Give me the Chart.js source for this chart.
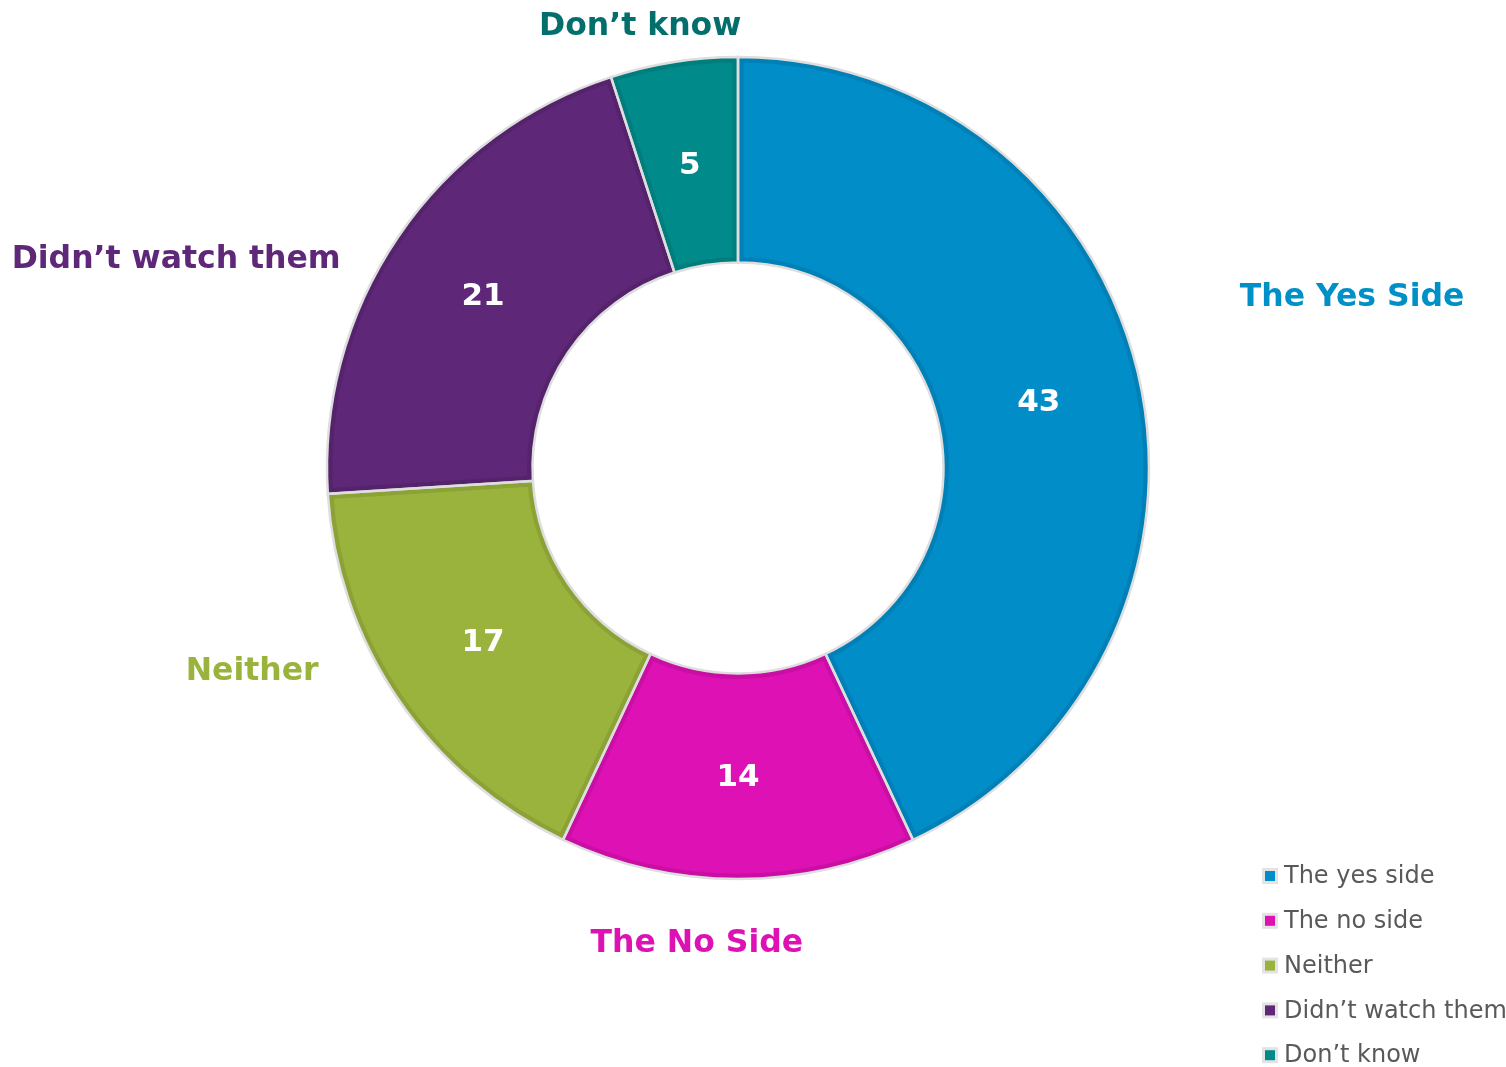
<!DOCTYPE html>
<html>
<head>
<meta charset="utf-8">
<script src="https://cdn.jsdelivr.net/npm/chart.js@4/dist/chart.umd.min.js"></script>
<style>
  html, body { margin: 0; padding: 0; background: #fff; }
  #wrap { width: 1506px; height: 1067px; }
</style>
</head>
<body>
<div id="wrap"><canvas id="chart" width="1506" height="1067"></canvas></div>
<script>
var categories = [ 'The yes side', 'The no side', 'Neither', 'Didn\u2019t watch them', 'Don\u2019t know' ];
var outerLabels = [ 'The Yes Side', 'The No Side', 'Neither', 'Didn\u2019t watch them', 'Don\u2019t know' ];
var values = [ 43, 14, 17, 21, 5 ];
var colors = [ '#008dc8', '#dd11b4', '#9ab33c', '#5e2777', '#008a8a' ];
var labelColors = [ '#0090c8', '#dd11b4', '#9ab33c', '#5e2777', '#036f6d' ];

// where the outer labels sit, in outer radii from the centre
var labelSpots = [ [ 1.494, -0.418 ], [ -0.100, 1.153 ], [ -1.182, 0.491 ], [ -1.367, -0.511 ], [ -0.238, -1.078 ] ];

var FONT = '"DejaVu Sans", Verdana, sans-serif';

var ringPlugin = {
    id: 'ring',
    afterDatasetsDraw: function ( chart ) {
        var ctx = chart.ctx;
        var meta = chart.getDatasetMeta( 0 );

        meta.data.forEach( function ( arc, i ) {
            var p = arc.getProps( [ 'x', 'y', 'startAngle', 'endAngle', 'innerRadius', 'outerRadius' ], true );

            var path = function () {
                ctx.beginPath();
                ctx.arc( p.x, p.y, p.outerRadius, p.startAngle, p.endAngle );
                ctx.arc( p.x, p.y, p.innerRadius, p.endAngle, p.startAngle, true );
                ctx.closePath();
            };

            // darker inner rim
            ctx.save();
            path();
            ctx.clip();
            ctx.lineWidth = 11;
            ctx.strokeStyle = 'rgba(0,0,0,0.09)';
            ctx.lineJoin = 'miter';
            path();
            ctx.stroke();
            ctx.restore();

            // light outline
            ctx.save();
            path();
            ctx.lineWidth = 2.5;
            ctx.strokeStyle = '#dedede';
            ctx.stroke();
            ctx.restore();
        } );

        // value labels inside the ring
        ctx.save();
        ctx.font = 'bold 31px ' + FONT;
        ctx.fillStyle = '#ffffff';
        ctx.textAlign = 'center';
        ctx.textBaseline = 'middle';
        meta.data.forEach( function ( arc, i ) {
            var c = arc.tooltipPosition();
            ctx.fillText( String( values[ i ] ), c.x, c.y + 2 );
        } );
        ctx.restore();

        // category labels outside the ring
        var first = meta.data[ 0 ];
        var cx = first.x, cy = first.y, r = first.outerRadius;
        ctx.save();
        ctx.font = 'bold 31.5px ' + FONT;
        ctx.textAlign = 'center';
        ctx.textBaseline = 'middle';
        outerLabels.forEach( function ( txt, i ) {
            ctx.fillStyle = labelColors[ i ];
            ctx.fillText( txt, cx + labelSpots[ i ][ 0 ] * r, cy + labelSpots[ i ][ 1 ] * r + 2 );
        } );
        ctx.restore();

        // legend, bottom right
        ctx.save();
        ctx.font = '24px ' + FONT;
        ctx.textAlign = 'left';
        ctx.textBaseline = 'middle';
        categories.forEach( function ( txt, i ) {
            var ly = 876 + i * 44.8;
            ctx.fillStyle = '#e3e3e3';
            ctx.fillRect( 1262, ly - 8, 16, 16 );
            ctx.fillStyle = colors[ i ];
            ctx.fillRect( 1265, ly - 5, 10, 10 );
            ctx.fillStyle = '#595959';
            ctx.fillText( txt, 1284, ly + 1 );
        } );
        ctx.restore();
    }
};

new Chart( document.getElementById( 'chart' ), {
    type: 'doughnut',
    data: {
        labels: categories,
        datasets: [ {
            data: values,
            backgroundColor: colors,
            borderWidth: 0
        } ]
    },
    options: {
        responsive: false,
        animation: false,
        cutout: '50%',
        layout: {
            padding: { left: 327, top: 57, right: 357, bottom: 188 }
        },
        plugins: {
            legend: { display: false },
            tooltip: { enabled: false }
        },
        events: []
    },
    plugins: [ ringPlugin ]
} );
</script>
</body>
</html>
